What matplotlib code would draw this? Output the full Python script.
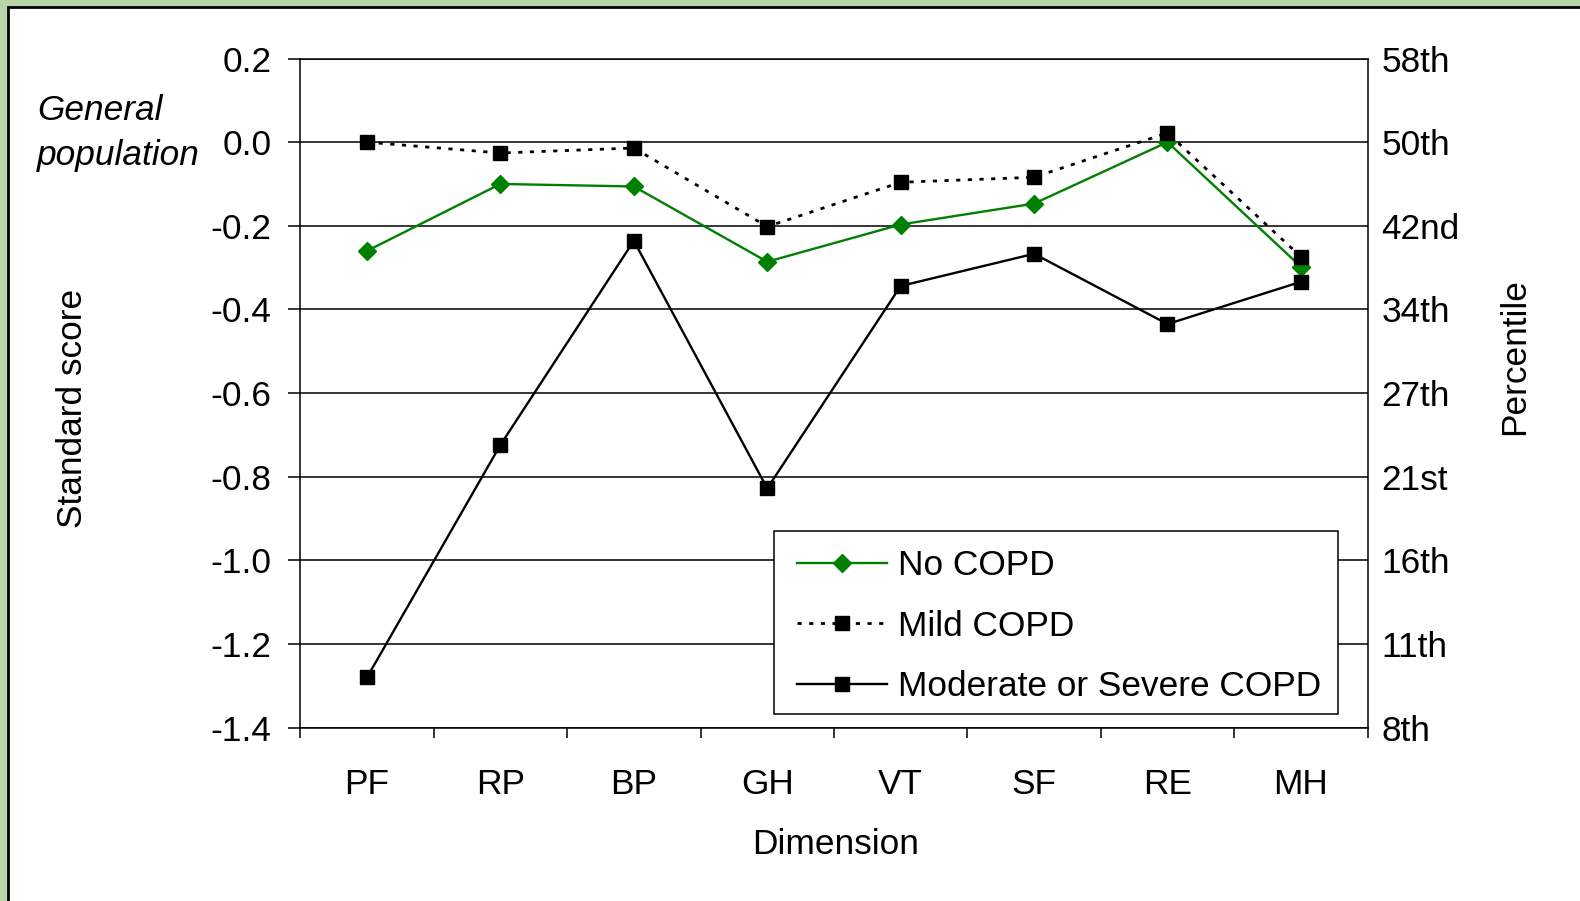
import matplotlib
matplotlib.use("Agg")
import matplotlib.pyplot as plt
from matplotlib.patches import Rectangle

# ---- data ----
dimensions = ["PF", "RP", "BP", "GH", "VT", "SF", "RE", "MH"]
no_copd = [-0.26, -0.10, -0.106, -0.286, -0.197, -0.147, 0.0, -0.298]
mild_copd = [0.0, -0.026, -0.014, -0.202, -0.096, -0.084, 0.022, -0.274]
mod_sev_copd = [-1.28, -0.724, -0.236, -0.828, -0.344, -0.267, -0.435, -0.334]
y_ticks = [0.2, 0.0, -0.2, -0.4, -0.6, -0.8, -1.0, -1.2, -1.4]
y_tick_labels = ["0.2", "0.0", "-0.2", "-0.4", "-0.6", "-0.8", "-1.0", "-1.2", "-1.4"]
percentile_labels = ["58th", "50th", "42nd", "34th", "27th", "21st", "16th", "11th", "8th"]
series_names = ["No COPD", "Mild COPD", "Moderate or Severe COPD"]

plt.rcParams['font.family'] = ['Liberation Sans', 'DejaVu Sans']
FS = 25.4

W, H = 1580, 901
fig = plt.figure(figsize=(W / 100, H / 100), dpi=100)
fig.patch.set_facecolor('#bad6a8')

# white panel
panel = Rectangle((8 / W, -0.05), 1.2, (H - 7) / H + 0.05,
                  transform=fig.transFigure, facecolor='white',
                  edgecolor='black', linewidth=2, zorder=-10)
fig.patches.append(panel)

left, right, top, bottom = 300.3, 1367.6, 58.5, 727.6
ax = fig.add_axes([left / W, 1 - bottom / H, (right - left) / W, (bottom - top) / H])
ax.set_zorder(1)
ax.set_facecolor('white')

x = list(range(1, len(dimensions) + 1))
ax.plot(x, no_copd, color='#008000', lw=1.7, marker='D', ms=9.5,
        markeredgecolor='#008000', label=series_names[0], zorder=3)
ax.plot(x, mild_copd, color='black', lw=2.0, linestyle=(0, (1.5, 2.7)), marker='s', ms=10,
        label=series_names[1], zorder=4)
ax.plot(x, mod_sev_copd, color='black', lw=1.7, marker='s', ms=10,
        label=series_names[2], zorder=4)

ax.set_xlim(0.5, len(dimensions) + 0.5)
ax.set_ylim(-1.4, 0.2)
ax.set_yticks(y_ticks)
ax.set_yticklabels(y_tick_labels, fontsize=FS)
ax.set_xticks(x)
ax.set_xticklabels(dimensions, fontsize=FS)
ax.set_xticks([i + 0.5 for i in range(0, len(dimensions) + 1)], minor=True)
ax.tick_params(axis='x', which='major', length=0, pad=29)
ax.tick_params(axis='x', which='minor', length=7.5, width=1.1, direction='out')
ax.tick_params(axis='y', which='major', length=8.6, width=1.1, direction='out', pad=12)
ax.yaxis.grid(True, color='black', lw=1.1)
ax.set_axisbelow(True)
for s in ax.spines.values():
    s.set_linewidth(1.1)
    s.set_color('black')

ax2 = ax.twinx()
ax2.set_zorder(0)
ax2.set_ylim(ax.get_ylim())
ax2.set_yticks(y_ticks)
ax2.set_yticklabels(percentile_labels, fontsize=FS)
ax2.tick_params(axis='y', length=0, pad=10)
for s in ax2.spines.values():
    s.set_visible(False)

fig.text(73 / W, 1 - 408 / H, "Standard score", rotation=90, fontsize=FS,
         ha='center', va='center')
fig.text(1515 / W, 1 - 357 / H, "Percentile", rotation=90, fontsize=FS,
         ha='center', va='center')
fig.text(836 / W, 1 - 845 / H, "Dimension", fontsize=FS, ha='center', va='center')
fig.text(37 / W, 1 - 110 / H, "General", fontsize=FS, style='italic',
         ha='left', va='center')
fig.text(37 / W, 1 - 156 / H, "population", fontsize=FS, style='italic',
         ha='left', va='center')

# legend frame (drawn separately for exact padding)
frame = Rectangle((774 / W, 1 - 713.5 / H), (1338 - 774) / W, (713.5 - 531) / H,
                  transform=fig.transFigure, facecolor='white', edgecolor='black',
                  linewidth=1.1, zorder=9)
ax.add_patch(frame)
frame.set_clip_on(False)

leg = ax.legend(loc='center left', bbox_to_anchor=(797 / W, 1 - 626 / H),
                bbox_transform=fig.transFigure, fontsize=FS, frameon=False,
                handlelength=2.55, handletextpad=0.3,
                borderpad=0, labelspacing=0.78, borderaxespad=0)
leg.set_zorder(10)

fig.savefig("out.png", dpi=100, facecolor=fig.get_facecolor())
